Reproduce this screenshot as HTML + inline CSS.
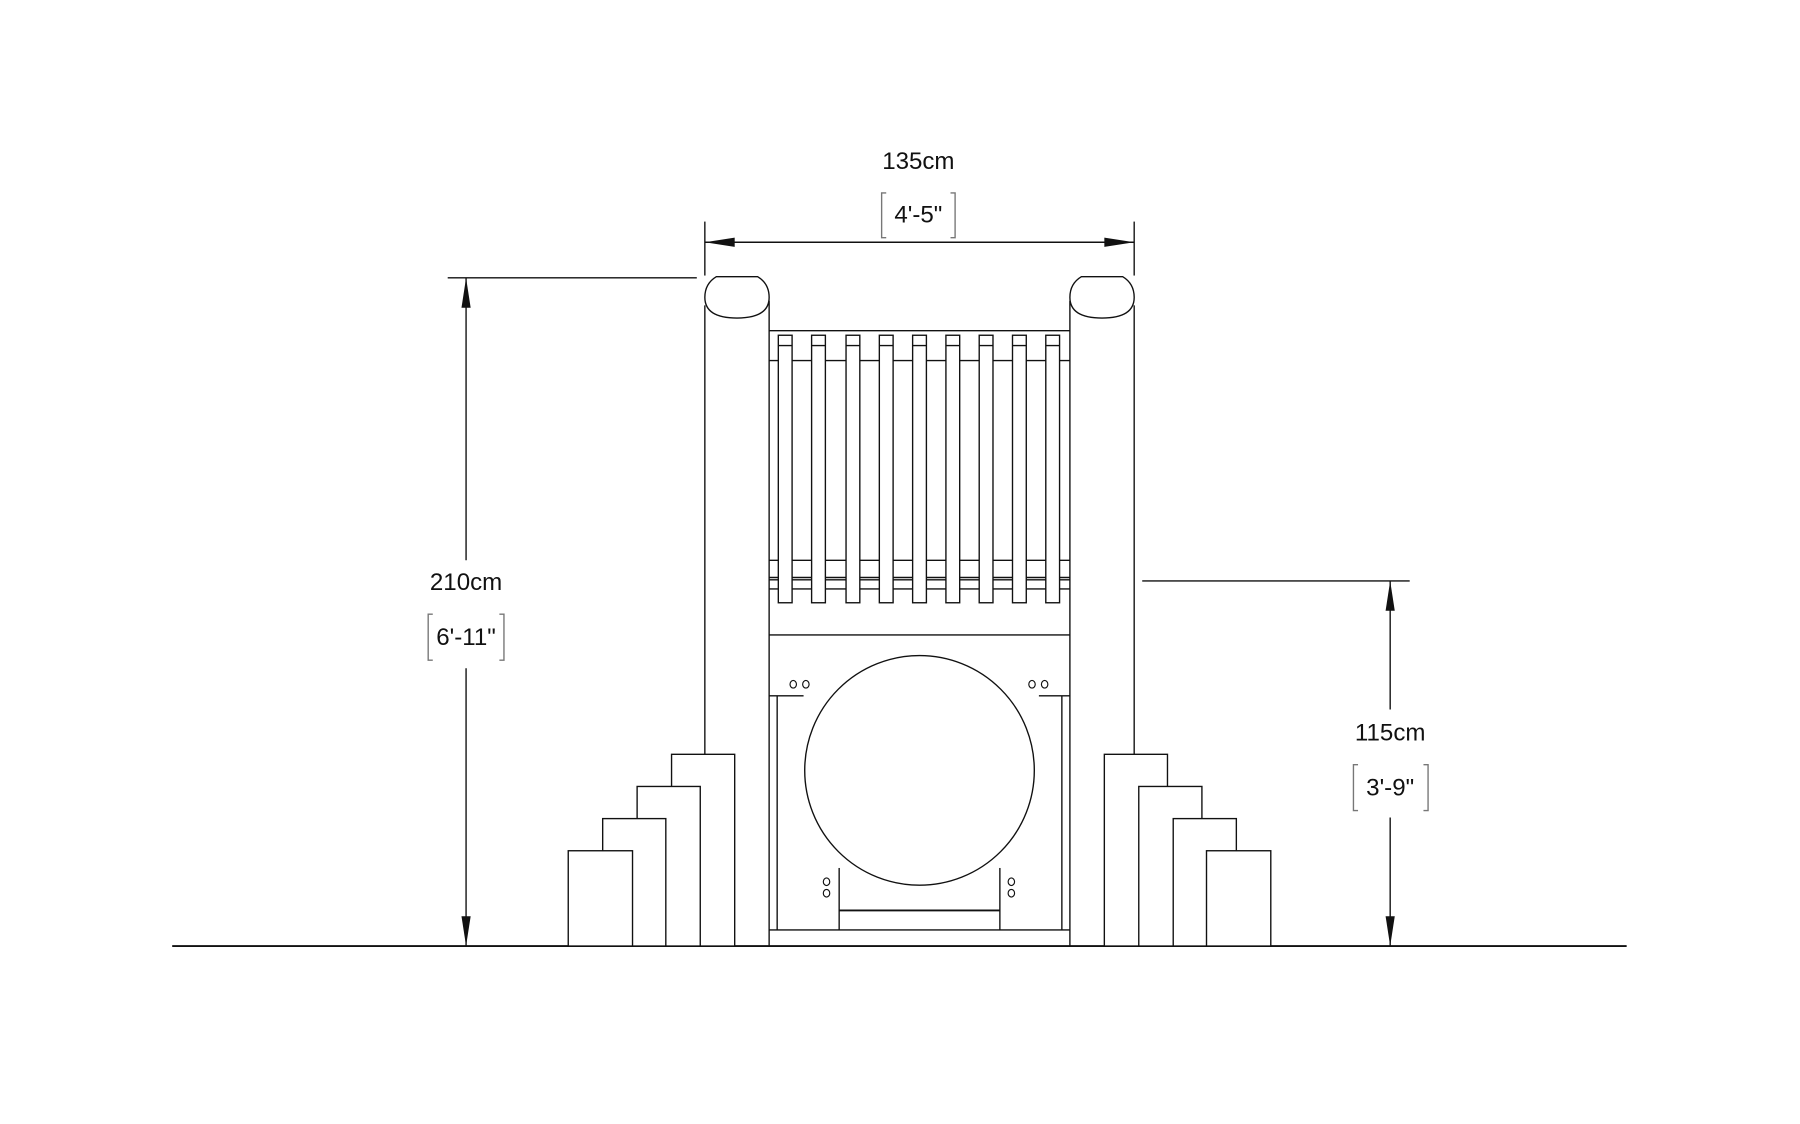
<!DOCTYPE html>
<html><head><meta charset="utf-8"><style>
html,body{margin:0;padding:0;background:#fff}
svg{display:block}
text{font-family:"Liberation Sans",sans-serif;font-size:21px;fill:#111;text-anchor:middle}
</style></head><body>
<svg width="1800" height="1124" viewBox="0 0 1568 979" preserveAspectRatio="none" xmlns="http://www.w3.org/2000/svg">
<g fill="none" stroke="#111" stroke-width="1.2">
<line x1="150" y1="824" x2="1417" y2="824" stroke-width="1.6"/>
<line x1="614" y1="193" x2="614" y2="240"/>
<line x1="988" y1="193" x2="988" y2="240"/>
<line x1="614" y1="211" x2="988" y2="211"/>
<line x1="390" y1="242" x2="607" y2="242"/>
<line x1="406" y1="242" x2="406" y2="488"/>
<line x1="406" y1="582" x2="406" y2="824"/>
<line x1="995" y1="506" x2="1228" y2="506"/>
<line x1="1211" y1="506" x2="1211" y2="618"/>
<line x1="1211" y1="712" x2="1211" y2="824"/>
<path d="M772 168 H768 V207 H772 M828 168 H832 V207 H828" stroke="#777"/>
<path d="M377 535 H373 V575 H377 M435 535 H439 V575 H435" stroke="#777"/>
<path d="M1183 666 H1179 V706 H1183 M1240 666 H1244 V706 H1240" stroke="#777"/>
<line x1="614" y1="266" x2="614" y2="657"/>
<line x1="670" y1="262" x2="670" y2="824"/>
<line x1="932" y1="262" x2="932" y2="824"/>
<line x1="988" y1="266" x2="988" y2="657"/>
<path d="M624 241 H660 Q670 247 670 259 Q670 277 642 277 Q614 277 614 259 Q614 247 624 241 Z"/>
<path d="M942 241 H978 Q988 247 988 259 Q988 277 960 277 Q932 277 932 259 Q932 247 942 241 Z"/>
<line x1="670" y1="288" x2="932" y2="288"/>
<line x1="670" y1="314" x2="932" y2="314"/>
<line x1="670" y1="488" x2="932" y2="488"/>
<line x1="670" y1="503" x2="932" y2="503"/>
<line x1="670" y1="505" x2="932" y2="505"/>
<line x1="670" y1="513" x2="932" y2="513"/>
<line x1="670" y1="553" x2="932" y2="553"/>
<line x1="670" y1="606" x2="700" y2="606"/>
<line x1="905" y1="606" x2="932" y2="606"/>
</g>
<g fill="#fff" stroke="#111" stroke-width="1.2">
<rect x="678" y="292" width="12" height="233"/>
<rect x="707" y="292" width="12" height="233"/>
<rect x="737" y="292" width="12" height="233"/>
<rect x="766" y="292" width="12" height="233"/>
<rect x="795" y="292" width="12" height="233"/>
<rect x="824" y="292" width="12" height="233"/>
<rect x="853" y="292" width="12" height="233"/>
<rect x="882" y="292" width="12" height="233"/>
<rect x="911" y="292" width="12" height="233"/>
</g>
<g fill="none" stroke="#111" stroke-width="1.2">
<path d="M678 301h12M707 301h12M737 301h12M766 301h12M795 301h12M824 301h12M853 301h12M882 301h12M911 301h12"/>
<line x1="677" y1="606" x2="677" y2="810"/>
<line x1="925" y1="606" x2="925" y2="810"/>
<line x1="670" y1="810" x2="932" y2="810"/>
<line x1="731" y1="756" x2="731" y2="810"/>
<line x1="871" y1="756" x2="871" y2="810"/>
<line x1="731" y1="793" x2="871" y2="793" stroke-width="1.6"/>
<ellipse cx="801" cy="671" rx="100" ry="100" fill="#fff"/>
<g stroke-width="1">
<ellipse cx="691" cy="596" rx="2.8" ry="3.3"/><ellipse cx="702" cy="596" rx="2.8" ry="3.3"/>
<ellipse cx="899" cy="596" rx="2.8" ry="3.3"/><ellipse cx="910" cy="596" rx="2.8" ry="3.3"/>
<ellipse cx="720" cy="768" rx="2.8" ry="3.3"/><ellipse cx="720" cy="778" rx="2.8" ry="3.3"/>
<ellipse cx="881" cy="768" rx="2.8" ry="3.3"/><ellipse cx="881" cy="778" rx="2.8" ry="3.3"/>
</g>
</g>
<g fill="#fff" stroke="#111" stroke-width="1.2">
<rect x="585" y="657" width="55" height="167"/>
<rect x="555" y="685" width="55" height="139"/>
<rect x="525" y="713" width="55" height="111"/>
<rect x="495" y="741" width="56" height="83"/>
<rect x="962" y="657" width="55" height="167"/>
<rect x="992" y="685" width="55" height="139"/>
<rect x="1022" y="713" width="55" height="111"/>
<rect x="1051" y="741" width="56" height="83"/>
</g>
<g fill="#111">
<polygon points="614,211 640,207 640,215"/>
<polygon points="988,211 962,207 962,215"/>
<polygon points="406,242 402,268 410,268"/>
<polygon points="406,824 402,798 410,798"/>
<polygon points="1211,506 1207,532 1215,532"/>
<polygon points="1211,824 1207,798 1215,798"/>
</g>
<text x="800" y="147">135cm</text>
<text x="800" y="194">4'-5"</text>
<text x="406" y="514">210cm</text>
<text x="406" y="562">6'-11"</text>
<text x="1211" y="645">115cm</text>
<text x="1211" y="693">3'-9"</text>
</svg>
</body></html>
